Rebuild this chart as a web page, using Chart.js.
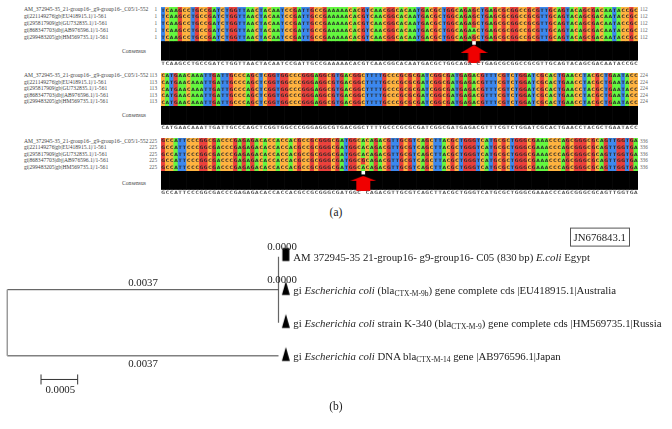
<!DOCTYPE html>
<html>
<head>
<meta charset="utf-8">
<title>CTX-M alignment and tree</title>
<script src="https://cdn.jsdelivr.net/npm/chart.js@4/dist/chart.umd.min.js"></script>
<style>
  html, body { margin: 0; padding: 0; background: #fff; }
  #page { position: relative; width: 672px; height: 429px; overflow: hidden; font-family: "Liberation Serif", serif; }
  canvas { position: absolute; display: block; }
  .align { filter: blur(0.35px); }
  .t { position: absolute; white-space: nowrap; line-height: 1; color: #222; }
  .t sub { font-size: 7.5px; line-height: 0; vertical-align: -2px; }
  #accession { border: 1px solid #555; padding: 3px 3px; }
</style>
</head>
<body>
<div id="page"></div>
<script>
const seqNames = [
  "AM_372945-35_21-group16-_g9-group16-_C05/1-552",
  "gi|221149276|gb|EU418915.1|/1-561",
  "gi|295817909|gb|GU732835.1|/1-561",
  "gi|868347703|dbj|AB976596.1|/1-561",
  "gi|299483205|gb|HM569735.1|/1-561",
];

const rowsA = [
  "TCAAGCCTGCCGATCTGGTTAACTACAATCCGATTGCCGAAAAACACGTCAACGGCACAATGACGCTGGCAGAGCTGAGCGCGGCCGCGTTGCAGTACAGCGACAATACCGC",
  "TCAAGCCTGCCGATCTGGTTAACTACAATCCGATTGCCGAAAAACACGTCAACGGCACAATGACGCTGGCAGAGCTGAGCGCGGCCGCGTTGCAGTACAGCGACAATACCGC",
  "TCAAGCCTGCCGATCTGGTTAACTACAATCCGATTGCCGAAAAACACGTCAACGGCACAATGACGCTGGCAGAGCTGAGCGCGGCCGCGTTGCAGTACAGCGACAATACCGC",
  "TCAAGCCTGCCGATCTGGTTAACTACAATCCGATTGCCGAAAAACACGTCAACGGCACAATGACGCTGGCAGAACTGAGCGCGGCCGCGTTGCAGTACAGCGACAATACCGC",
  "TCAAGCCTGCCGATCTGGTTAACTACAATCCGATTGCCGAAAAACACGTCAACGGCACAATGACGCTGGCAGAGCTGAGCGCGGCCGCGTTGCAGTACAGCGACAATACCGC",
];
const rowsB = [
  "CATGAACAAATTGATTGCCCAGCTCGGTGGCCCGGGAGGCGTGACGGCTTTTGCCCGCGCGATCGGCGATGAGACGTTTCGTCTGGATCGCACTGAACCTACGCTGAATACC",
  "CATGAACAAATTGATTGCCCAGCTCGGTGGCCCGGGAGGCGTGACGGCTTTTGCCCGCGCGATCGGCGATGAGACGTTTCGTCTGGATCGCACTGAACCTACGCTGAATACC",
  "CATGAACAAATTGATTGCCCAGCTCGGTGGCCCGGGAGGCGTGACGGCTTTTGCCCGCGCGATCGGCGATGAGACGTTTCGTCTGGATCGCACTGAACCTACGCTGAATACC",
  "CATGAACAAATTGATTGCCCAGCTCGGTGGCCCGGGAGGCGTGACGGCTTTTGCCCGCGCGATCGGCGATGAGACGTTTCGTCTGGATCGCACTGAACCTACGCTGAATACC",
  "CATGAACAAATTGATTGCCCAGCTCGGTGGCCCGGGAGGCGTGACGGCTTTTGCCCGCGCGATCGGCGATGAGACGTTTCGTCTGGATCGCACTGAACCTACGCTGAATACC",
];
const rowsC = [
  "GCCATTCCCGGCGACCCGAGAGACACCACCACGCCGCGGGCGATGGCACAGACGTTGCGTCAGCTTACGCTGGGTCATGCGCTGGGCGAAACCCAGCGGGCGCAGTTGGTGA",
  "GCCATTCCCGGCGACCCGAGAGACACCACCACGCCGCGGGCGATGGCACAGACGTTGCGTCAGCTTACGCTGGGTCATGCGCTGGGCGAAACCCAGCGGGCGCAGTTGGTGA",
  "GCCATTCCCGGCGACCCGAGAGACACCACCACGCCGCGGGCGATGGCACAGACGTTGCGTCAGCTTACGCTGGGTCATGCGCTGGGCGAAACCCAGCGGGCGCAGTTGGTGA",
  "GCCATTCCCGGCGACCCGAGAGACACCACCACGCCGCGGGCGATGGCGCAGACGTTGCGTCAGCTTACGCTGGGTCATGCGCTGGGCGAAACCCAGCGGGCGCAGTTGGTGA",
  "GCCATTCCCGGCGACCCGAGAGACACCACCACGCCGCGGGCGATGGCACAGACGTTGCGTCAGCTTACGCTGGGTCATGCGCTGGGCGAAACCCAGCGGGCGCAGTTGGTGA",
];
const startNumbers = [1, 113, 225];
const endNumbers = [112, 224, 336];

const taxa = [
  "AM 372945-35 21-group16- g9-group16- C05 (830&#8201;bp) <i>E.coli</i> Egypt",
  "gi <i>Escherichia coli</i> (bla<sub>CTX-M-9b</sub>) gene complete cds |EU418915.1|Australia",
  "gi <i>Escherichia coli</i> strain K-340 (bla<sub>CTX-M-9</sub>) gene complete cds |HM569735.1|Russia",
  "gi <i>Escherichia coli</i> DNA bla<sub>CTX-M-14</sub> gene |AB976596.1|Japan",
];
const leafRows = [0, 1, 2, 3];
const outerBranch = 0.0037;
const leafLength = 0.0001;
const innerRows = [0, 2];
const rootRows = [1, 3];
const scaleBar = [0.00046, 0.00096];

const baseColors = { A: "#64F73F", C: "#FFB340", G: "#EB413C", T: "#3C88EE" };

const page = document.getElementById("page");

function addText(html, x, y, size, opts = {}) {
  const el = document.createElement("div");
  el.className = "t";
  el.innerHTML = html;
  el.style.left = x + "px";
  el.style.top = y + "px";
  el.style.fontSize = size + "px";
  const tx = opts.align === "right" ? "-100%" : opts.align === "center" ? "-50%" : "0";
  el.style.transform = `translate(${tx}, -50%)`;
  if (opts.color) el.style.color = opts.color;
  if (opts.id) el.id = opts.id;
  page.appendChild(el);
  return el;
}

function addCanvas(left, top, width, height, cls) {
  const c = document.createElement("canvas");
  c.width = width;
  c.height = height;
  c.style.left = left + "px";
  c.style.top = top + "px";
  c.style.width = width + "px";
  c.style.height = height + "px";
  if (cls) c.className = cls;
  page.appendChild(c);
  return c;
}

function arrowSprite(w, h, headH, stemW) {
  const c = document.createElement("canvas");
  c.width = w;
  c.height = h;
  const g = c.getContext("2d");
  g.fillStyle = "#f00000";
  g.beginPath();
  g.moveTo(w / 2, 0);
  g.lineTo(w, headH);
  g.lineTo(w / 2 + stemW / 2, headH);
  g.lineTo(w / 2 + stemW / 2, h);
  g.lineTo(w / 2 - stemW / 2, h);
  g.lineTo(w / 2 - stemW / 2, headH);
  g.lineTo(0, headH);
  g.closePath();
  g.fill();
  return c;
}

// consensus base and how many rows agree with it, per column
function consensusOf(rows) {
  return [...rows[0]].map((_, i) => {
    const counts = {};
    rows.forEach((r) => { counts[r[i]] = (counts[r[i]] || 0) + 1; });
    const best = Object.entries(counts).sort((a, b) => b[1] - a[1])[0];
    return { base: best[0], share: best[1] / rows.length };
  });
}

const lettersPlugin = {
  id: "letters",
  afterDatasetsDraw(chart, _args, opts) {
    const { ctx, scales: { x, y } } = chart;
    ctx.save();
    ctx.textAlign = "center";
    ctx.textBaseline = "middle";
    ctx.font = "bold 4.6px 'DejaVu Sans'";
    ctx.fillStyle = "#2a2a2a";
    opts.rows.forEach((row, r) => {
      [...row].forEach((b, i) => ctx.fillText(b, x.getPixelForValue(i), y.getPixelForValue(r + 0.5)));
    });
    ctx.fillStyle = "#555";
    opts.consensus.forEach((c, i) => {
      if (opts.arrows.includes(i)) return;
      ctx.fillText(c.base, x.getPixelForValue(i), y.getPixelForValue(opts.textRow));
    });
    ctx.restore();
  },
};

function drawAlignment(rows, top, height, arrows, sprite) {
  const canvas = addCanvas(161, top, 477, height, "align");
  const consensus = consensusOf(rows);
  const labels = [...rows[0]].map((_, i) => i);
  const gap = 0.06;
  const block = 2.82;
  const datasets = rows.map((row) => ({
    data: labels.map(() => 1),
    backgroundColor: [...row].map((b) => baseColors[b]),
    stack: "col",
  }));
  datasets.push({ data: labels.map((i) => gap + block * (1 - consensus[i].share)), backgroundColor: "rgba(0,0,0,0)", stack: "col" });
  datasets.push({ data: labels.map((i) => block * consensus[i].share), backgroundColor: "#000", stack: "col" });
  if (arrows.length) {
    datasets.push({
      type: "line",
      stack: "mark",
      order: -1,
      showLine: false,
      pointStyle: sprite,
      pointRadius: 10,
      data: labels.map((i) => (arrows.includes(i) ? 6.94 : null)),
    });
  }
  new Chart(canvas, {
    type: "bar",
    data: { labels, datasets },
    options: {
      responsive: false,
      animation: false,
      events: [],
      layout: { padding: 0, autoPadding: false },
      barPercentage: 1,
      categoryPercentage: 1,
      plugins: {
        legend: { display: false },
        tooltip: { enabled: false },
        letters: { rows, consensus, arrows, textRow: 8.35 },
      },
      scales: {
        x: { display: false, stacked: true },
        y: { display: false, stacked: true, reverse: true, min: 0, max: 8.72 },
      },
    },
    plugins: [lettersPlugin],
  });
}

function drawSide(index, rowYs, consensusY) {
  rowYs.forEach((y, r) => {
    addText(seqNames[r], 24, y, 5.6, { color: "#444" });
    addText(String(startNumbers[index]), 157, y, 5.2, { color: "#555", align: "right" });
    addText(String(endNumbers[index]), 640, y, 5.2, { color: "#666" });
  });
  addText("Consensus", 146, consensusY, 5.6, { color: "#444", align: "right" });
}

drawAlignment(rowsA, 7, 59, [73], arrowSprite(27, 18, 8, 12));
drawAlignment(rowsB, 73, 57, [], null);
drawAlignment(rowsC, 138, 57, [47], arrowSprite(26, 15, 5, 14));

drawSide(0, [10, 16.7, 24, 30.7, 37.7], 51.5);
drawSide(1, [76, 82.7, 89.3, 96, 102.3], 116);
drawSide(2, [141.7, 148, 154.7, 161.3, 168], 183.5);
addText("(a)", 336, 213, 11.5, { align: "center" });

// tree
function leafSprite(kind) {
  const c = document.createElement("canvas");
  c.width = 10;
  c.height = 20;
  const g = c.getContext("2d");
  g.fillStyle = "#000";
  if (kind === "rect") {
    g.fillRect(1.5, 1.3, 7, 13);
  } else {
    g.beginPath();
    g.moveTo(5, 1.3);
    g.lineTo(9, 15.3);
    g.lineTo(1, 15.3);
    g.closePath();
    g.fill();
  }
  return c;
}

const treeCanvas = addCanvas(0, 240, 300, 160);
const pxToLen = outerBranch / 271.2;
const line = (points, color, width) => ({ data: points, borderColor: color, borderWidth: width, showLine: true, pointRadius: 0 });

new Chart(treeCanvas, {
  type: "scatter",
  data: {
    datasets: [
      line([{ x: 0, y: rootRows[0] }, { x: 0, y: rootRows[1] }], "#9a9a9a", 1),
      line([{ x: 0, y: rootRows[0] }, { x: outerBranch, y: rootRows[0] }], "#444", 1),
      line([{ x: 0, y: rootRows[1] }, { x: outerBranch, y: rootRows[1] }], "#808080", 1.6),
      line([{ x: outerBranch, y: innerRows[0] }, { x: outerBranch, y: innerRows[1] }], "#666", 1.2),
      line([{ x: scaleBar[0], y: 3.72 }, { x: scaleBar[1], y: 3.72 }], "#333", 1),
      {
        data: scaleBar.map((x) => ({ x, y: 3.72 })),
        pointStyle: "line",
        rotation: 90,
        pointRadius: 5,
        pointBorderColor: "#333",
        pointBorderWidth: 1,
      },
      {
        data: leafRows.map((y) => ({ x: outerBranch + leafLength, y })),
        pointStyle: [leafSprite("rect"), leafSprite("tri"), leafSprite("tri"), leafSprite("tri")],
        pointRadius: 10,
      },
    ],
  },
  options: {
    responsive: false,
    animation: false,
    events: [],
    layout: { padding: 0, autoPadding: false },
    plugins: { legend: { display: false }, tooltip: { enabled: false } },
    scales: {
      x: { display: false, min: -7.3 * pxToLen, max: (300 - 7.3) * pxToLen },
      y: { display: false, reverse: true, min: -16.7 / 33, max: 143.3 / 33 },
    },
  },
});

addText("0.0037", 143, 281.7, 10.8, { align: "center" });
addText("0.0037", 143, 362.7, 10.8, { align: "center" });
addText("0.0005", 60.3, 389, 10.8, { align: "center" });
addText("0.0000", 282, 245.7, 10.8, { align: "center" });
addText("0.0000", 282, 279, 10.8, { align: "center" });

const taxaY = [257.3, 290, 323, 356];
taxa.forEach((name, i) => addText(name, 293.3, taxaY[i], 10.8));

addText("JN676843.1", 569.5, 237, 10.8, { id: "accession" });
addText("(b)", 336, 407, 11.5, { align: "center" });
</script>
</body>
</html>
